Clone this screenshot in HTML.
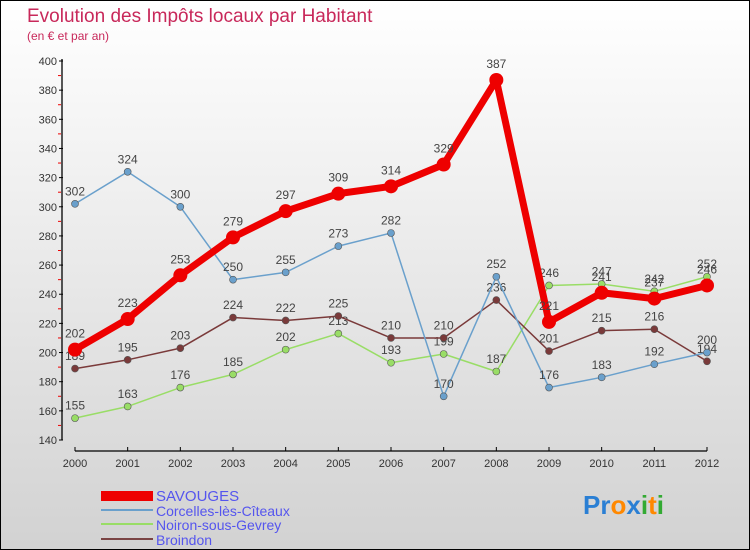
<!DOCTYPE html>
<html><head><meta charset="utf-8"><style>
body{margin:0}
#c{width:748px;height:548px;border:1px solid #000;background:linear-gradient(#ffffff,#d2d2d2);position:relative;font-family:"Liberation Sans",sans-serif;overflow:hidden}
svg text{font-family:"Liberation Sans",sans-serif}
</style></head><body>
<div id="c">
<svg id="s" width="748" height="548">
<text x="26" y="21" font-size="19" fill="#c8285a">Evolution des Impôts locaux par Habitant</text>
<text x="26" y="39" font-size="12" fill="#c8285a">(en € et par an)</text>
<g id="g"></g>
<rect x="100" y="490" width="52" height="10" fill="#ee0000"/>
<text x="155" y="500" font-size="15" fill="#5555ee">SAVOUGES</text>
<rect x="100" y="508" width="52" height="2" fill="#6aa0cc"/>
<text x="155" y="515" font-size="14" fill="#5555ee">Corcelles-lès-Cîteaux</text>
<rect x="100" y="522" width="52" height="2" fill="#99dd66"/>
<text x="155" y="529" font-size="14" fill="#5555ee">Noiron-sous-Gevrey</text>
<rect x="100" y="537" width="52" height="2" fill="#7a4444"/>
<text x="155" y="544" font-size="14" fill="#5555ee">Broindon</text>
<text x="582" y="513" font-size="26" font-weight="bold"><tspan fill="#2a7fd4">Pr</tspan><tspan fill="#ff8800">o</tspan><tspan fill="#2a7fd4">x</tspan><tspan fill="#33aa33">i</tspan><tspan fill="#ff8800">t</tspan><tspan fill="#33aa33">i</tspan></text>
</svg></div>
<script>
const years=[2000,2001,2002,2003,2004,2005,2006,2007,2008,2009,2010,2011,2012];
const savouges=[202,223,253,279,297,309,314,329,387,221,241,237,246];
const corcelles=[302,324,300,250,255,273,282,170,252,176,183,192,200];
const noiron=[155,163,176,185,202,213,193,199,187,246,247,242,252];
const broindon=[189,195,203,224,222,225,210,210,236,201,215,216,194];
const yTicks=[140,160,180,200,220,240,260,280,300,320,340,360,380,400];
const NS="http://www.w3.org/2000/svg";
const g=document.getElementById('g');
function X(i){return 74+i*(632/12);}
function Y(v){return 439-(v-140)*(379/260);}
function el(t,a,name){const e=document.createElementNS(NS,t);for(const k in a)e.setAttribute(k,a[k]);


g.appendChild(e);return e;}
el('line',{x1:61,y1:Y(400)-2,x2:61,y2:Y(140),stroke:'#000','stroke-width':1.3},'y-axis');
el('line',{x1:74,y1:450,x2:706,y2:450,stroke:'#000','stroke-width':1.3},'x-axis');
yTicks.forEach(v=>{
el('line',{x1:58,y1:Y(v),x2:62,y2:Y(v),stroke:'#000'},'y-tick');
if(v<400)el('line',{x1:57,y1:Y(v+10),x2:60,y2:Y(v+10),stroke:'#e00'},'y-minor-tick');
const t=el('text',{x:56,y:Y(v)+4,'font-size':11,'text-anchor':'end',fill:'#333'},'y-tick-label');t.textContent=v;});
years.forEach((y,i)=>{
el('line',{x1:X(i),y1:446,x2:X(i),y2:450,stroke:'#000'},'x-tick');
const t=el('text',{x:X(i),y:466,'font-size':11,'text-anchor':'middle',fill:'#333'},'x-tick-label');t.textContent=y;});
function series(d,color,w,r,name){
el('polyline',{points:d.map((v,i)=>X(i)+','+Y(v)).join(' '),fill:'none',stroke:color,'stroke-width':w,'stroke-linejoin':'round'},name+'-line');
d.forEach((v,i)=>{el('circle',{cx:X(i),cy:Y(v),r:r,fill:color,stroke:w>3?color:'#555','stroke-width':w>3?0:0.6},name+'-point');
const t=el('text',{x:X(i),y:Y(v)-(r+5),'font-size':12,'text-anchor':'middle',fill:'#444'},name+'-value-label');t.textContent=v;});}
series(noiron,'#99dd66',1.5,3.5,'noiron');
series(broindon,'#7a3a3a',1.5,3.5,'broindon');
series(corcelles,'#6aa0cc',1.5,3.5,'corcelles');
series(savouges,'#ee0000',7,7,'savouges');
</script>
</body></html>
